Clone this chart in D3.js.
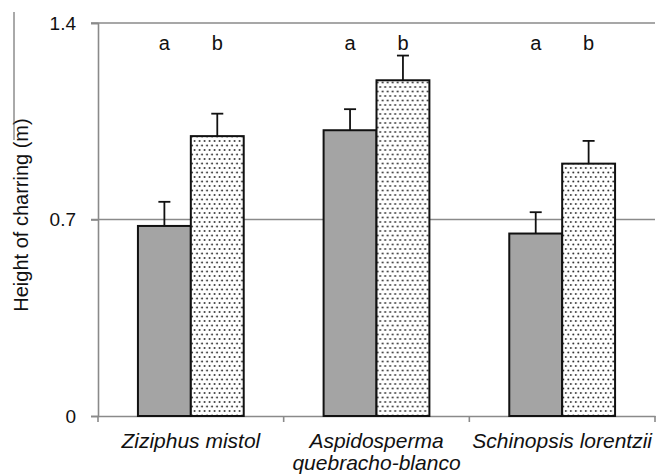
<!DOCTYPE html>
<html>
<head>
<meta charset="utf-8">
<script src="https://cdn.jsdelivr.net/npm/d3@7"></script>
<style>
  body { margin: 0; background: #fff; }
  text { font-family: "Liberation Sans", Arial, sans-serif; fill: #111; }
</style>
</head>
<body>
<div id="chart"></div>
<script>
// species along the x axis (second entry is split over two lines)
let species = [['Ziziphus mistol'], ['Aspidosperma', 'quebracho-blanco'], ['Schinopsis lorentzii']];
let groups = ['a', 'b'];
// height of charring (m) for each group, per species
let meanA = [0.677, 1.018, 0.650];
let meanB = [0.997, 1.196, 0.899];
let errA = [0.086, 0.075, 0.076];
let errB = [0.080, 0.088, 0.081];
let yTicks = [0, 0.7, 1.4];

let width = 665, height = 474;
let plotLeft = 98, plotRight = 655, plotTop = 23, plotBottom = 416;

let svg = d3.select('#chart')
.append('svg')
.attr('width', width)
.attr('height', height);

// dot pattern for the second group
let pat = svg.append('defs').append('pattern')
.attr('id', 'dots')
.attr('patternUnits', 'userSpaceOnUse')
.attr('width', 5)
.attr('height', 9);
pat.append('rect').attr('width', 5).attr('height', 9).attr('fill', '#fff');
pat.append('circle').attr('cx', 1.2).attr('cy', 1.5).attr('r', 0.95).attr('fill', '#2a2a2a');
pat.append('circle').attr('cx', 3.7).attr('cy', 6).attr('r', 0.95).attr('fill', '#2a2a2a');

let names = species.map(function(d) { return d.join(' '); });

let x0 = d3.scaleBand()
.domain(names)
.range([plotLeft, plotRight])
.paddingInner(0);

let x1 = d3.scaleBand()
.domain(groups)
.range([0, x0.bandwidth()])
.paddingInner(0)
.paddingOuter(0.755);

let y = d3.scaleLinear()
.domain([0, 1.4])
.range([plotBottom, plotTop]);

// gridlines at the y ticks
svg.append('g')
.selectAll('line')
.data(yTicks.filter(function(t) { return t > 0; }))
.enter()
.append('line')
.attr('x1', plotLeft - 7)
.attr('x2', plotRight)
.attr('y1', function(d) { return y(d); })
.attr('y2', function(d) { return y(d); })
.attr('stroke', '#8a8a8a')
.attr('stroke-width', 1.6);

// y axis
let yAxis = svg.append('g')
.attr('transform', 'translate(' + plotLeft + ',0)')
.call(d3.axisLeft(y).tickValues(yTicks).tickSize(7).tickPadding(15)
  .tickFormat(function(d) { return d === 0 ? '0' : d3.format('.1f')(d); }));
yAxis.select('.domain').attr('stroke', '#8a8a8a').attr('stroke-width', 1.6);
yAxis.selectAll('.tick line').attr('stroke', '#8a8a8a').attr('stroke-width', 1.6);
yAxis.selectAll('.tick text')
.style('font-size', '19px')
.style('font-family', '"Liberation Sans", Arial, sans-serif')
.attr('fill', '#111');

// x axis
let xAxis = svg.append('g')
.attr('transform', 'translate(0,' + plotBottom + ')')
.call(d3.axisBottom(x0).tickSize(0).tickFormat(''));
xAxis.select('.domain').attr('stroke', '#8a8a8a').attr('stroke-width', 1.6);
xAxis.selectAll('.tick').remove();

// category boundary ticks
let bounds = names.map(function(n) { return x0(n); }).concat([plotRight]);
svg.append('g')
.selectAll('line')
.data(bounds)
.enter()
.append('line')
.attr('x1', function(d) { return d; })
.attr('x2', function(d) { return d; })
.attr('y1', plotBottom)
.attr('y2', plotBottom + 6)
.attr('stroke', '#8a8a8a')
.attr('stroke-width', 1.6);

// bars
let rows = [];
names.forEach(function(n, i) {
  rows.push({name: n, g: 'a', v: meanA[i], e: errA[i]});
  rows.push({name: n, g: 'b', v: meanB[i], e: errB[i]});
});

let bar = svg.append('g')
.selectAll('g')
.data(rows)
.enter()
.append('g')
.attr('transform', function(d) { return 'translate(' + (x0(d.name) + x1(d.g)) + ',0)'; });

// error bars (drawn first so the bar outline sits on top)
bar.append('line')
.attr('x1', x1.bandwidth() / 2)
.attr('x2', x1.bandwidth() / 2)
.attr('y1', function(d) { return y(d.v); })
.attr('y2', function(d) { return y(d.v + d.e); })
.attr('stroke', '#111')
.attr('stroke-width', 1.8);
bar.append('line')
.attr('x1', x1.bandwidth() / 2 - 6)
.attr('x2', x1.bandwidth() / 2 + 6)
.attr('y1', function(d) { return y(d.v + d.e); })
.attr('y2', function(d) { return y(d.v + d.e); })
.attr('stroke', '#111')
.attr('stroke-width', 1.8);

bar.append('rect')
.attr('y', function(d) { return y(d.v); })
.attr('width', x1.bandwidth())
.attr('height', function(d) { return plotBottom - y(d.v); })
.attr('fill', function(d) { return d.g === 'a' ? '#a4a4a4' : 'url(#dots)'; })
.attr('stroke', '#111')
.attr('stroke-width', 2);

// group letters above the bars
bar.append('text')
.attr('x', x1.bandwidth() / 2)
.attr('y', 50)
.attr('text-anchor', 'middle')
.style('font-size', '20px')
.text(function(d) { return d.g; });

// species labels
let lab = svg.append('g')
.selectAll('text')
.data(species)
.enter()
.append('text')
.attr('x', function(d) { return x0(d.join(' ')) + x0.bandwidth() / 2; })
.attr('y', 448)
.attr('text-anchor', 'middle')
.style('font-size', '21px')
.style('font-style', 'italic');
lab.selectAll('tspan')
.data(function(d) { return d; })
.enter()
.append('tspan')
.attr('x', function() { return d3.select(this.parentNode).attr('x'); })
.attr('dy', function(d, i) { return i === 0 ? 0 : 22; })
.text(function(d) { return d; });

// y axis title
svg.append('text')
.attr('transform', 'translate(28,215) rotate(-90)')
.attr('text-anchor', 'middle')
.style('font-size', '20px')
.text('Height of charring (m)');

// thin frame edge on the left
svg.append('line')
.attr('x1', 14).attr('x2', 14)
.attr('y1', 12).attr('y2', 140)
.attr('stroke', '#555')
.attr('stroke-width', 1);
</script>
</body>
</html>
